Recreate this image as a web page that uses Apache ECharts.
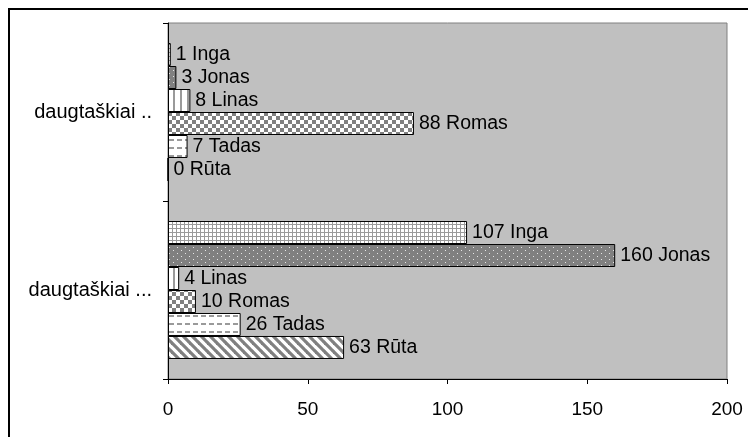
<!DOCTYPE html>
<html>
<head>
<meta charset="utf-8">
<script src="https://cdn.jsdelivr.net/npm/echarts@6/dist/echarts.min.js"></script>
<style>
  html, body { margin: 0; padding: 0; background: #ffffff; }
  #chart { width: 748px; height: 437px; }
</style>
</head>
<body>
<div id="chart"></div>
<script>
// Group labels (top to bottom)
var categories = ['daugtaškiai ..', 'daugtaškiai ...'];
// People, one bar series each
var seriesNames = ['Inga', 'Jonas', 'Linas', 'Romas', 'Tadas', 'Rūta'];
var ingaValues  = [1, 107];
var jonasValues = [3, 160];
var linasValues = [8, 4];
var romasValues = [88, 10];
var tadasValues = [7, 26];
var rutaValues  = [0, 63];
var xTicks = [0, 50, 100, 150, 200];

var GRAY = '#808080';
var LIGHT = '#9a9a9a';

function tile(w, h, draw) {
  var c = document.createElement('canvas');
  c.width = w; c.height = h;
  var g = c.getContext('2d');
  draw(g, w, h);
  return { image: c, repeat: 'repeat' };
}

// Fill patterns for each series
var patterns = [
  // small grid
  tile(4, 4, function (g) {
    g.fillStyle = '#fff'; g.fillRect(0, 0, 4, 4);
    g.fillStyle = LIGHT; g.fillRect(0, 0, 4, 1); g.fillRect(0, 0, 1, 4);
  }),
  // dotted dark gray
  tile(8, 6, function (g) {
    g.fillStyle = GRAY; g.fillRect(0, 0, 8, 6);
    g.fillStyle = '#e6e6e6'; g.fillRect(1, 1, 1, 1); g.fillRect(5, 4, 1, 1);
  }),
  // vertical lines
  tile(7, 4, function (g) {
    g.fillStyle = '#fff'; g.fillRect(0, 0, 7, 4);
    g.fillStyle = LIGHT; g.fillRect(5, 0, 2, 4);
  }),
  // checkerboard
  tile(8, 8, function (g) {
    g.fillStyle = '#fff'; g.fillRect(0, 0, 8, 8);
    g.fillStyle = GRAY; g.fillRect(0, 0, 4, 4); g.fillRect(4, 4, 4, 4);
  }),
  // dashed horizontal
  tile(8, 8, function (g) {
    g.fillStyle = '#fff'; g.fillRect(0, 0, 8, 8);
    g.fillStyle = LIGHT; g.fillRect(1, 3, 5, 2);
  }),
  // wide downward diagonal
  tile(9, 9, function (g) {
    g.fillStyle = '#fff'; g.fillRect(0, 0, 9, 9);
    g.strokeStyle = GRAY; g.lineWidth = 3.2;
    [-9, 0, 9].forEach(function (o) {
      g.beginPath(); g.moveTo(o - 1, -1); g.lineTo(o + 10, 10); g.stroke();
    });
  })
];

var valueSets = [ingaValues, jonasValues, linasValues, romasValues, tadasValues, rutaValues];
var FONT = 'Liberation Sans';

var series = seriesNames.map(function (name, i) {
  return {
    name: name,
    type: 'bar',
    data: valueSets[i],
    barGap: '0%',
    barCategoryGap: '22.5%',
    itemStyle: { color: patterns[i], borderColor: '#000', borderWidth: 1 },
    label: {
      show: true, position: 'right', distance: 5,
      formatter: '{c} {a}',
      color: '#000', fontFamily: FONT, fontSize: 19.5
    },
    emphasis: { disabled: true },
    animation: false
  };
});

var chart = echarts.init(document.getElementById('chart'), null, { renderer: 'canvas' });
chart.setOption({
  animation: false,
  graphic: [{
    // outer frame: left and top edges of the chart area
    type: 'polyline', z: -10,
    shape: { points: [[9, 440], [9, 9], [750, 9]] },
    style: { fill: null, stroke: '#000', lineWidth: 2 }
  }],
  grid: {
    left: 168, top: 23, right: 21, bottom: 58,
    show: true, backgroundColor: '#c0c0c0', borderColor: GRAY, borderWidth: 1
  },
  xAxis: {
    type: 'value', min: xTicks[0], max: xTicks[xTicks.length - 1], interval: 50,
    axisLine: { show: true, lineStyle: { color: '#000', width: 1 } },
    axisTick: { show: true, length: 5, lineStyle: { color: '#000' } },
    axisLabel: { color: '#000', fontFamily: FONT, fontSize: 19, margin: 21 },
    splitLine: { show: false }
  },
  yAxis: {
    type: 'category', data: categories, inverse: true,
    axisLine: { show: true, lineStyle: { color: '#000', width: 1 } },
    axisTick: { show: true, length: 5, lineStyle: { color: '#000' } },
    axisLabel: { color: '#000', fontFamily: FONT, fontSize: 20, margin: 16 }
  },
  series: series
});
</script>
</body>
</html>
